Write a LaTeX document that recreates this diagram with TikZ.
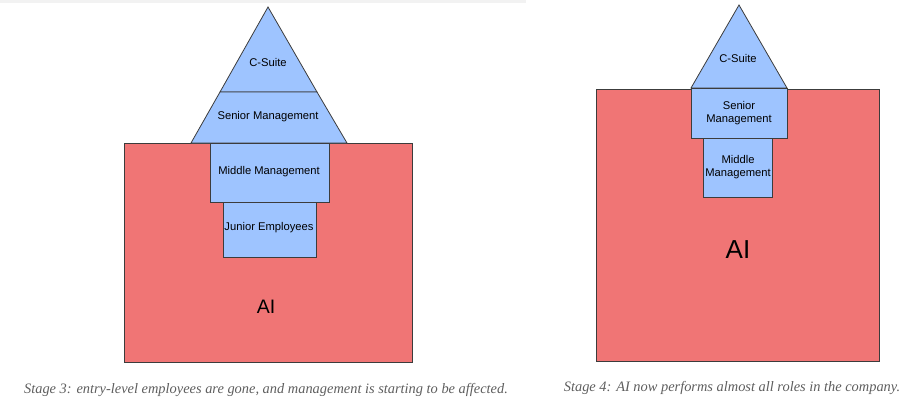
\documentclass[tikz,border=0pt]{standalone}
\usepackage{fontspec}
\setmainfont{Liberation Sans}
\newfontfamily\captionfont{Liberation Serif}
\usepackage{tikz}
\usetikzlibrary{positioning}

\definecolor{aired}{HTML}{F07575}
\definecolor{roleblue}{HTML}{9EC4FF}
\definecolor{edgegray}{HTML}{3C3C3C}
\definecolor{captiongray}{HTML}{5E5E5E}
\definecolor{bandgray}{HTML}{F2F2F2}

\begin{document}
\begin{tikzpicture}[x=1pt,y=-1pt,
    aibox/.style={fill=aired,draw=edgegray,line width=0.8pt},
    rolebox/.style={fill=roleblue,draw=edgegray,line width=0.8pt},
    role/.style={font=\fontsize{11.2}{13}\selectfont,align=center,inner sep=0pt},
    stagecap/.style={font=\captionfont\itshape\fontsize{14.4}{16}\selectfont,text=captiongray,inner sep=0pt}]
   \useasboundingbox (0,0) rectangle (908,407);
   \fill[bandgray] (0,0) rectangle (526,3);
   % stage 3
   \draw[aibox] (124,143) rectangle (412,362);
   \draw[rolebox] (268,7) -- (317,92) -- (220,92) -- cycle;
   \draw[rolebox] (220,92) -- (317,92) -- (347,143) -- (191,143) -- cycle;
   \draw[rolebox] (210,143) rectangle (329,202);
   \draw[rolebox] (223,202) rectangle (316,257);
   \node[role] (csuite_3) at (268,62) {C-Suite};
   \node[role] (senior_3) at (268,117) {Senior Management};
   \node[role] (middle_3) at (269,172) {Middle Management};
   \node[role] (junior_3) at (269,228) {Junior Employees};
   \node[font=\fontsize{19.5}{22}\selectfont,inner sep=0pt] (ai_3) at (266,307) {AI};
   \node[stagecap] (cap_3) at (266,390) {Stage 3: entry-level employees are gone, and management is starting to be affected.};
   % stage 4
   \draw[aibox] (596,89) rectangle (879,361);
   \draw[rolebox] (739,5) -- (787,88) -- (691,88) -- cycle;
   \draw[rolebox] (691,88) rectangle (787,138);
   \draw[rolebox] (703,138) rectangle (772,197);
   \node[role] (csuite_4) at (738,58) {C-Suite};
   \node[role] (senior_4) at (739,113) {Senior\\Management};
   \node[role] (middle_4) at (738,167) {Middle\\Management};
   \node[font=\fontsize{26}{30}\selectfont,inner sep=0pt] (ai_4) at (738,250) {AI};
   \node[stagecap] (cap_4) at (732,388) {Stage 4: AI now performs almost all roles in the company.};
\end{tikzpicture}
\end{document}
